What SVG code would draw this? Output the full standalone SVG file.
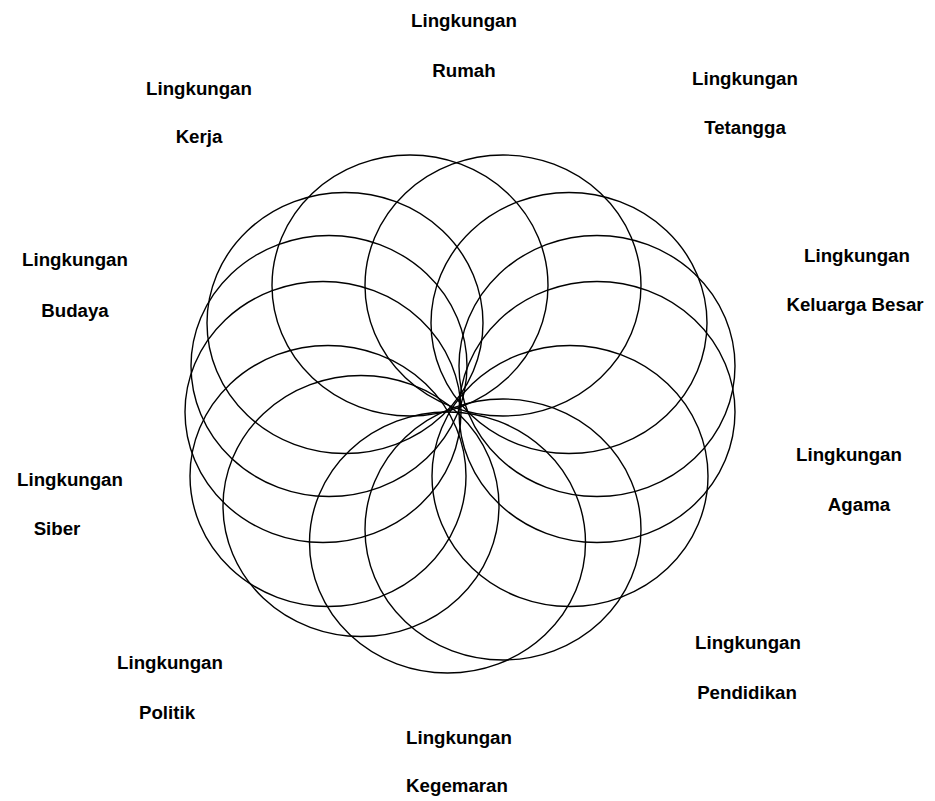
<svg xmlns="http://www.w3.org/2000/svg" width="935" height="801" viewBox="0 0 935 801">
<style>
.c{fill:none;stroke:#000;stroke-width:1.4}
.t{font-family:"Liberation Sans",Arial,sans-serif;font-weight:bold;font-size:18.7px;fill:#000;text-anchor:middle}
</style>
<rect width="935" height="801" fill="#fff"/>
<g id="rosette">
<ellipse class="c" cx="410" cy="285.5" rx="138" ry="130.5"/>
<ellipse class="c" cx="503" cy="285.5" rx="138" ry="130.5"/>
<ellipse class="c" cx="345" cy="323" rx="138" ry="130.5"/>
<ellipse class="c" cx="569" cy="323" rx="138" ry="130.5"/>
<ellipse class="c" cx="329" cy="366" rx="138" ry="130.5"/>
<ellipse class="c" cx="597" cy="366" rx="138" ry="130.5"/>
<ellipse class="c" cx="323" cy="412" rx="138" ry="130.5"/>
<ellipse class="c" cx="597" cy="412" rx="138" ry="130.5"/>
<ellipse class="c" cx="328" cy="476" rx="138" ry="130.5"/>
<ellipse class="c" cx="570" cy="476" rx="138" ry="130.5"/>
<ellipse class="c" cx="361" cy="506" rx="138" ry="130.5"/>
<ellipse class="c" cx="503" cy="529.5" rx="138" ry="130.5"/>
<ellipse class="c" cx="447.5" cy="542.5" rx="138" ry="130.5"/>
</g>
<g id="connectors"></g>
<g id="rumah"><text class="t" x="464" y="27">Lingkungan</text><text class="t" x="464" y="77">Rumah</text></g>
<g id="kerja"><text class="t" x="199" y="95">Lingkungan</text><text class="t" x="199" y="143">Kerja</text></g>
<g id="tetangga"><text class="t" x="745" y="85">Lingkungan</text><text class="t" x="745" y="134">Tetangga</text></g>
<g id="budaya"><text class="t" x="75" y="266">Lingkungan</text><text class="t" x="75" y="317">Budaya</text></g>
<g id="keluarga-besar"><text class="t" x="857" y="262">Lingkungan</text><text class="t" x="855" y="311">Keluarga Besar</text></g>
<g id="agama"><text class="t" x="849" y="461">Lingkungan</text><text class="t" x="859" y="511">Agama</text></g>
<g id="siber"><text class="t" x="70" y="486">Lingkungan</text><text class="t" x="57" y="535">Siber</text></g>
<g id="pendidikan"><text class="t" x="748" y="649">Lingkungan</text><text class="t" x="747" y="699">Pendidikan</text></g>
<g id="politik"><text class="t" x="170" y="669">Lingkungan</text><text class="t" x="167" y="719">Politik</text></g>
<g id="kegemaran"><text class="t" x="459" y="744">Lingkungan</text><text class="t" x="457" y="792">Kegemaran</text></g>
</svg>
